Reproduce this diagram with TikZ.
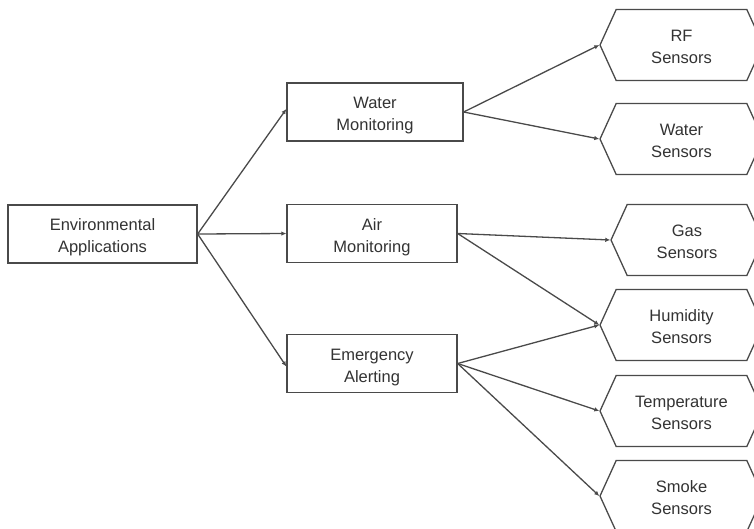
\documentclass[tikz,border=0pt]{standalone}
\usepackage{fontspec}
\setmainfont{Liberation Sans}
\usetikzlibrary{shapes.symbols,arrows.meta}

\definecolor{edgegray}{HTML}{4A4A4A}
\definecolor{textgray}{HTML}{333333}

% two centred lines, set a little below the middle of their box
\newcommand{\twoline}[2]{\raisebox{-3.5pt}[\height][\depth]{%
  \begin{tabular}{@{}c@{}}#1\\#2\end{tabular}}}

\tikzset{
  txt/.style={font=\fontsize{16.5}{22}\selectfont, text=textgray},
  appbox/.style={txt, draw=edgegray, line width=1.3pt, fill=white,
    rectangle, minimum height=58pt, inner sep=0pt},
  sensor/.style={txt, draw=edgegray, line width=1.3pt, fill=white,
    signal, signal from=nowhere, signal to={west and east}, signal pointer angle=131,
    minimum height=71pt, minimum width=163pt, inner sep=0pt},
  link/.style={draw=edgegray, line width=1.3pt,
    -{Latex[length=5pt,width=4.5pt]}},
}

\begin{document}
\begin{tikzpicture}[x=1pt,y=-1pt]
  \useasboundingbox (0,0) rectangle (754,528);
  \clip (0,0) rectangle (754,528);

  % application boxes
  \node[appbox, minimum width=189pt] (env)   at (102.5,234) {\twoline{Environmental}{Applications}};
  \node[appbox, minimum width=176pt] (water) at (375,112)   {\twoline{Water}{Monitoring}};
  \node[appbox, minimum width=170pt] (air)   at (372,233.5) {\twoline{Air}{Monitoring}};
  \node[appbox, minimum width=170pt] (alert) at (372,363.5) {\twoline{Emergency}{Alerting}};

  % sensor hexagons
  \node[sensor] (rf)    at (681.5,45)  {\twoline{RF}{Sensors}};
  \node[sensor] (wsens) at (681.5,139) {\twoline{Water}{Sensors}};
  \node[sensor, minimum width=152pt] (gas) at (687,240) {\twoline{Gas}{Sensors}};
  \node[sensor] (hum)   at (681.5,325) {\twoline{Humidity}{Sensors}};
  \node[sensor] (temp)  at (681.5,411) {\twoline{Temperature}{Sensors}};
  \node[sensor] (smoke) at (681.5,496) {\twoline{Smoke}{Sensors}};

  % connectors
  \draw[link] (env.east) -- ([yshift=3pt]water.west);
  \draw[link] (env.east) -- (air.west);
  \draw[link] (env.east) -- ([yshift=-3pt]alert.west);

  \draw[link] (water.east) -- (rf.west);
  \draw[link] (water.east) -- (wsens.west);

  \draw[link] (air.east) -- (gas.west);
  \draw[link] (air.east) -- (hum.west);

  \draw[link] (alert.east) -- (hum.west);
  \draw[link] (alert.east) -- (temp.west);
  \draw[link] (alert.east) -- (smoke.west);
\end{tikzpicture}
\end{document}
